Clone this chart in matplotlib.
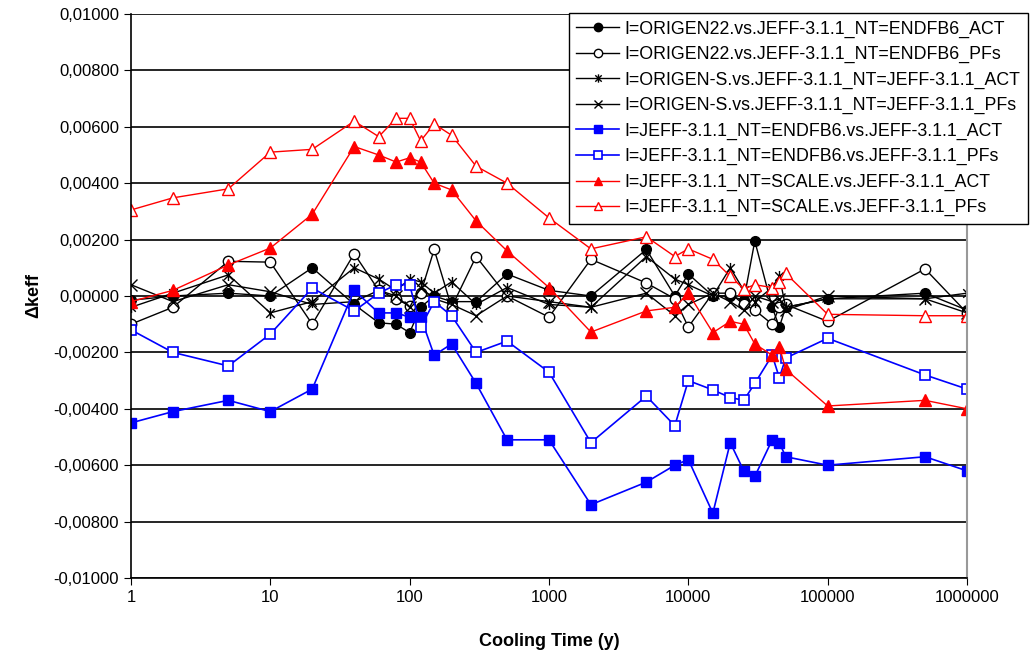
import numpy as np
import matplotlib
matplotlib.use("Agg")
from matplotlib import pyplot as plt
from matplotlib.path import Path
from matplotlib.ticker import FuncFormatter, FixedLocator, NullLocator

plt.rcParams['font.family'] = ['Liberation Sans', 'DejaVu Sans']

# cooling times (years)
t = [1, 2, 5, 10, 20, 40, 60, 80, 100, 120, 150, 200, 300, 500, 1000, 2000, 5000, 8000,
     10000, 15000, 20000, 25000, 30000, 40000, 45000, 50000, 100000, 500000, 1000000]

origen22_act = [-0.00015, 0.0000, 0.0001, 0.0000, 0.0010, -0.0003, -0.00095, -0.0010, -0.0013, -0.0004,
                0.0000, -0.0002, -0.0002, 0.00078, 0.0002, 0.0000, 0.00165, 0.0000,
                0.00078, 0.0000, 0.0000, -0.00015, 0.00195, -0.0004, -0.0011, -0.0004, -0.0001, 0.0001, -0.0005]
origen22_pfs = [-0.0010, -0.0004, 0.00123, 0.0012, -0.0010, 0.0015, 0.0002, -0.0001, -0.00035, 0.0001,
                0.00165, -0.0004, 0.0014, 0.0000, -0.00075, 0.0013, 0.00046, -0.0001,
                -0.0011, 0.0001, 0.0001, -0.0003, -0.0005, -0.0010, -0.0004, -0.0003, -0.0009, 0.00096, -0.0006]
origens_act = [-0.0004, 0.0001, 0.00075, -0.0006, -0.0002, 0.0010, 0.0006, 0.0002, 0.0006, 0.0005,
               0.0001, 0.0005, -0.0003, 0.0003, -0.0003, -0.0004, 0.0014, 0.0006,
               0.0004, 0.0000, 0.0010, 0.0002, -0.0002, 0.0003, 0.0007, -0.0004, -0.0001, -0.0001, 0.0001]
origens_pfs = [0.0004, -0.0002, 0.0004, 0.00015, -0.0003, -0.0002, 0.0002, 0.0000, -0.0004, 0.0003,
               -0.0001, -0.0003, -0.0007, 0.0000, -0.0002, -0.0004, 0.0001, -0.0007,
               -0.0003, 0.0001, -0.0002, -0.0005, 0.0000, -0.0002, -0.0001, -0.0005, 0.0000, -0.0001, -0.0006]
endfb6_act = [-0.0045, -0.0041, -0.0037, -0.0041, -0.0033, 0.0002, -0.0006, -0.0006, -0.00075, -0.00075,
              -0.0021, -0.0017, -0.0031, -0.0051, -0.0051, -0.0074, -0.0066, -0.0060,
              -0.0058, -0.0077, -0.0052, -0.0062, -0.0064, -0.0051, -0.0052, -0.0057, -0.0060, -0.0057, -0.0062]
endfb6_pfs = [-0.0012, -0.0020, -0.00248, -0.00135, 0.00028, -0.00053, 0.0001, 0.0004, 0.0004, -0.0011,
              -0.0002, -0.0007, -0.0020, -0.0016, -0.0027, -0.0052, -0.00355, -0.0046,
              -0.0030, -0.00333, -0.0036, -0.0037, -0.0031, -0.0021, -0.0029, -0.0022, -0.0015, -0.0028, -0.0033]
scale_act = [-0.0002, 0.0002, 0.0011, 0.0017, 0.0029, 0.0053, 0.0050, 0.00475, 0.0049, 0.00475,
             0.0040, 0.00376, 0.00266, 0.0016, 0.0003, -0.00128, -0.00053, -0.0004,
             0.0001, -0.0013, -0.0009, -0.0010, -0.0017, -0.0021, -0.0018, -0.0026, -0.0039, -0.0037, -0.0040]
scale_pfs = [0.00305, 0.00348, 0.0038, 0.0051, 0.0052, 0.0062, 0.00565, 0.0063, 0.0063, 0.0055,
             0.0061, 0.0057, 0.0046, 0.0040, 0.00277, 0.00167, 0.0021, 0.0014,
             0.00167, 0.0013, 0.0007, 0.00025, 0.0004, 0.0003, 0.0005, 0.0008, -0.00065, -0.0007, -0.0007]

labels = ['I=ORIGEN22.vs.JEFF-3.1.1_NT=ENDFB6_ACT',
          'I=ORIGEN22.vs.JEFF-3.1.1_NT=ENDFB6_PFs',
          'I=ORIGEN-S.vs.JEFF-3.1.1_NT=JEFF-3.1.1_ACT',
          'I=ORIGEN-S.vs.JEFF-3.1.1_NT=JEFF-3.1.1_PFs',
          'I=JEFF-3.1.1_NT=ENDFB6.vs.JEFF-3.1.1_ACT',
          'I=JEFF-3.1.1_NT=ENDFB6.vs.JEFF-3.1.1_PFs',
          'I=JEFF-3.1.1_NT=SCALE.vs.JEFF-3.1.1_ACT',
          'I=JEFF-3.1.1_NT=SCALE.vs.JEFF-3.1.1_PFs']

# excel style star: x with a vertical bar
star = Path([(-1, -1), (1, 1), (-1, 1), (1, -1), (0, -1.3), (0, 1.3)],
            [Path.MOVETO, Path.LINETO, Path.MOVETO, Path.LINETO, Path.MOVETO, Path.LINETO])

fig = plt.figure(figsize=(10.36, 6.59), dpi=100)
ax = fig.add_axes([0.1264, 0.1229, 0.807, 0.8559])

ax.plot(t, origen22_act, color='black', lw=1, marker='o', ms=7, mfc='black', mec='black', label=labels[0])
ax.plot(t, origen22_pfs, color='black', lw=1, marker='o', ms=7.5, mfc='white', mec='black', mew=1, label=labels[1])
ax.plot(t, origens_act, color='black', lw=1, marker=star, ms=8, mec='black', mew=1, label=labels[2])
ax.plot(t, origens_pfs, color='black', lw=1, marker='x', ms=8, mec='black', mew=1, label=labels[3])
ax.plot(t, endfb6_act, color='blue', lw=1.2, marker='s', ms=7, mfc='blue', mec='blue', label=labels[4])
ax.plot(t, endfb6_pfs, color='blue', lw=1.2, marker='s', ms=7, mfc='white', mec='blue', mew=1.2, label=labels[5])
ax.plot(t, scale_act, color='red', lw=1, marker='^', ms=8, mfc='red', mec='red', label=labels[6])
ax.plot(t, scale_pfs, color='red', lw=1, marker='^', ms=8, mfc='white', mec='red', mew=1, label=labels[7])

ax.set_xscale('log')
ax.set_xlim(1, 1000000)
ax.set_ylim(-0.01, 0.01)
ax.xaxis.set_major_locator(FixedLocator([1, 10, 100, 1000, 10000, 100000, 1000000]))
ax.xaxis.set_minor_locator(NullLocator())
ax.xaxis.set_major_formatter(FuncFormatter(lambda v, p: '%d' % round(v)))
ax.set_yticks(np.arange(-0.01, 0.0101, 0.002))
ax.yaxis.set_major_formatter(FuncFormatter(lambda v, p: ('%.5f' % v).replace('.', ',')))
ax.grid(axis='y', color='black', lw=1.2)
ax.set_axisbelow(True)
ax.tick_params(labelsize=12, direction='out', length=5, color='black')

ax.spines['top'].set_visible(False)
ax.spines['right'].set_color('#999999')
ax.spines['right'].set_linewidth(1.5)
ax.spines['left'].set_linewidth(1.2)
ax.spines['bottom'].set_linewidth(1.2)

ax.set_xlabel('Cooling Time (y)', fontsize=13, fontweight='bold', labelpad=20)
ax.set_ylabel('Δkeff', fontsize=13, fontweight='bold', labelpad=8)

leg = ax.legend(loc='upper left', bbox_to_anchor=(569 / 1036, 1 - 13 / 659), bbox_transform=fig.transFigure,
                fontsize=12.8, frameon=True, fancybox=False, edgecolor='black', framealpha=1,
                handlelength=2.4, labelspacing=0.47, borderpad=0.42, handletextpad=0.3, borderaxespad=0)
leg.get_frame().set_linewidth(1)
for h in leg.legend_handles:
    h.set_markersize(6)

fig.savefig('out.png', dpi=100)
